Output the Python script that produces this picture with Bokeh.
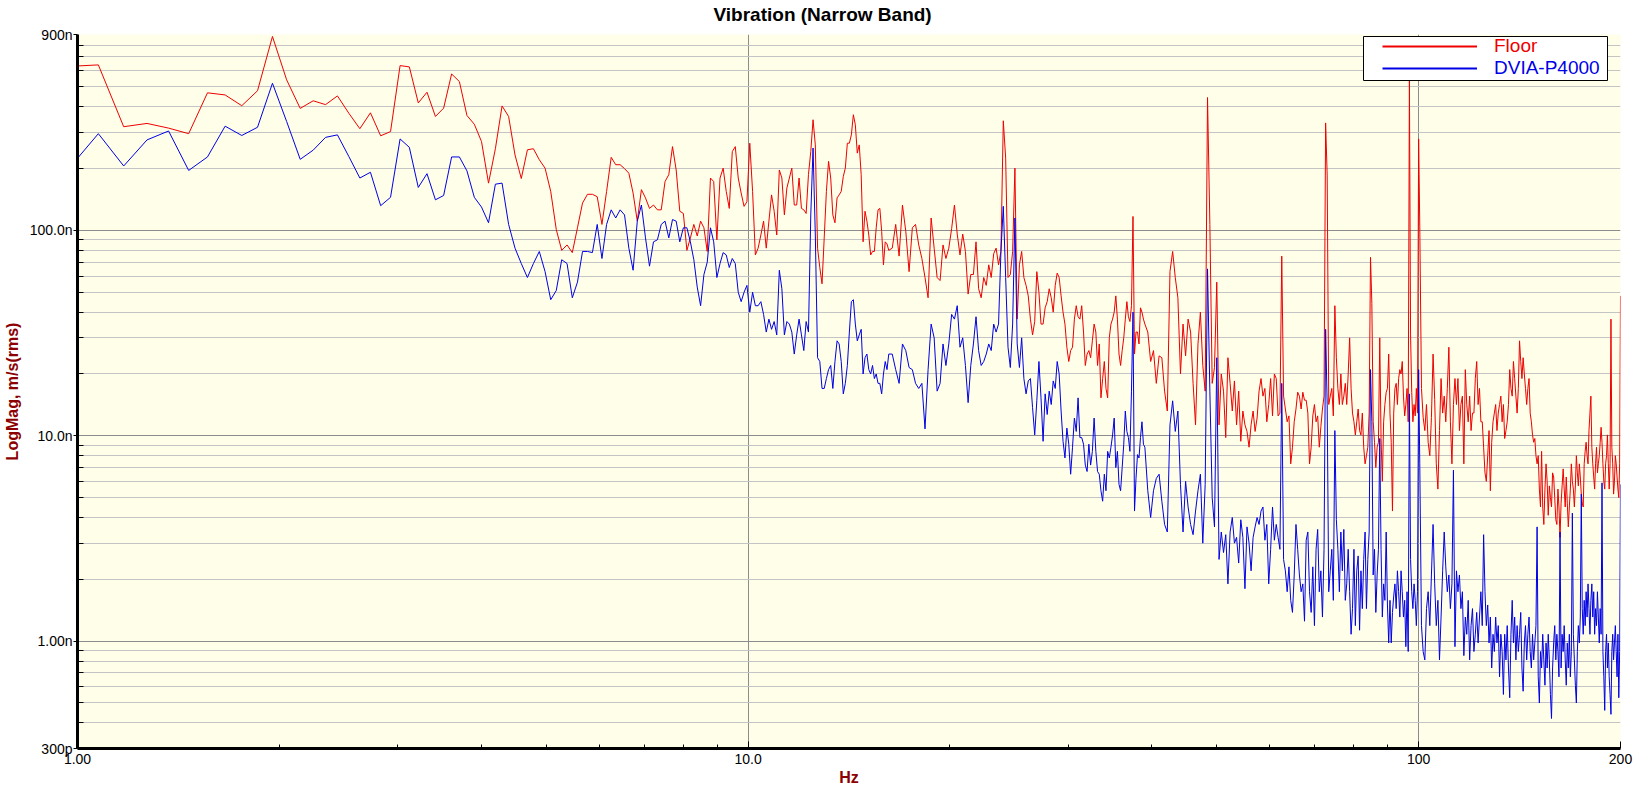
import numpy as np
from bokeh.plotting import figure
from bokeh.models import (Range1d, FixedTicker, CustomJSTickFormatter, Legend,
                          LegendItem, BoxAnnotation, Title)
from bokeh.embed import file_html
from bokeh.resources import INLINE

TITLE = "Vibration (Narrow Band)"
X_LABEL = "Hz"
Y_LABEL = "LogMag, m/s(rms)"
SERIES_NAMES = ["Floor", "DVIA-P4000"]

# spectral line spacing of the narrow-band analysis (Hz)
BIN_HZ = 200.0 / 2048

# ---- values in nm/s (rms) ----
# segment A: lines 10..166, every line
FLOOR_A = [630, 640, 320, 332, 315, 296, 468, 457, 405, 479,
           880, 541, 393, 428, 410, 452, 372, 313, 374, 289,
           303, 635, 626, 418, 471, 359, 394, 578, 531, 363,
           329, 271, 170, 250, 404, 359, 233, 179, 247, 250,
           221, 201, 155, 101, 80, 85, 78, 103, 136, 150,
           150, 146, 107, 155, 227, 209, 209, 200, 190, 152,
           111, 158, 144, 128, 133, 126, 126, 173, 187, 256,
           197, 124, 121, 80, 92, 107, 94, 111, 103, 79,
           180, 173, 90, 180, 201, 155, 128, 242, 256, 180,
           152, 131, 138, 266, 155, 76, 82, 95, 111, 82,
           111, 149, 124, 95, 197, 180, 119, 161, 180, 201,
           133, 133, 180, 128, 126, 121, 187, 242, 346, 261,
           82, 66, 55, 92, 155, 217, 180, 119, 109, 144,
           149, 155, 183, 201, 266, 266, 292, 366, 327, 238,
           261, 187, 88, 124, 111, 95, 76, 79, 79, 103,
           126, 128, 99, 68, 88, 86, 80]
DVIA_A = [205, 296, 206, 276, 305, 196, 228, 322, 290, 318,
          521, 339, 222, 246, 284, 292, 229, 180, 192, 132,
          145, 279, 254, 162, 189, 141, 148, 228, 228, 195,
          145, 130, 109, 168, 170, 107, 82, 69, 59, 69,
          79, 63, 46, 51, 72, 69, 47, 56, 79, 79,
          78, 107, 73, 107, 126, 115, 126, 119, 82, 64,
          111, 133, 92, 67, 88, 90, 107, 111, 92, 113,
          111, 88, 103, 103, 88, 72, 53, 43, 61, 70,
          103, 88, 59, 69, 78, 76, 66, 73, 69, 50,
          45, 50, 54, 40, 50, 43, 43, 45, 39, 32,
          37, 33, 36, 31, 64, 52, 31, 36, 35, 32,
          25, 31, 37, 31, 26, 36, 32, 119, 252, 95,
          24, 23, 17, 17, 19, 21, 22, 17, 23, 29,
          28, 23, 16, 18, 22, 32, 45, 46, 35, 29,
          31, 33, 20, 24, 25, 21, 20, 22, 19, 20,
          18, 18, 16, 20, 23, 21, 25]

# segment B: lines 168..400, every 2nd line
FLOOR_B = [82, 107, 75, 133, 99, 63, 103, 107, 85, 73,
           59, 47, 115, 82, 59, 57, 85, 73, 82, 102,
           133, 96, 76, 96, 79, 49, 61, 61, 88, 52,
           47, 59, 54, 68, 59, 77, 82, 68, 79, 342,
           225, 59, 61, 79, 201, 37, 68, 79, 59, 54,
           48, 37, 31, 36, 63, 50, 35, 35, 42, 45,
           52, 47, 40, 54, 62, 59, 48, 40, 35, 27,
           23, 26, 27, 37, 43, 38, 37, 43, 32, 22,
           25, 26, 24, 29, 35, 32, 22, 28, 15.3, 19,
           23, 17, 15.3, 30, 35, 37, 40, 48, 37, 25,
           22, 26, 30, 37, 45, 38, 36, 43, 117, 25,
           32, 32, 28, 42, 40, 37, 35]
DVIA_B = [25, 21, 18, 28, 26, 21.5, 21, 18, 17, 18,
          10.8, 21, 35, 30, 16.5, 18, 28, 22, 28, 39,
          37, 43, 27, 30, 22, 14.5, 22, 28, 38, 26,
          22, 23, 25, 28, 26, 35, 32, 35, 79, 131,
          59, 27, 21.5, 35, 115, 28, 21.5, 30, 19, 16,
          18.5, 19, 13.7, 10.1, 14.8, 23, 15.3, 9.4, 16, 12.7,
          16.5, 14.2, 18.5, 17, 23, 20, 13.2, 9.4, 7.8, 10.9,
          9.1, 6.5, 8.8, 12.2, 10.5, 15.3, 9.8, 9.8, 9.1, 7.2,
          6.7, 9.1, 7.2, 8.4, 12.2, 8.4, 6.7, 6.5, 5.4, 4.8,
          6.5, 5.4, 8.4, 7.8, 8.8, 10.1, 12.2, 7.0, 8.4, 5.8,
          5.4, 7.0, 9.1, 13.2, 10.5, 9.8, 8.4, 16.5, 40, 4.3,
          6.2, 8.1, 7.8, 9.8, 11.7, 9.1, 8.8]

# segment C: lines 404..1024, every 4th line
FLOOR_C = [32, 23, 26, 18, 24.5, 24, 16.5, 13.2, 63, 79,
           59, 47, 20, 35, 24.5, 37, 32, 18, 11.3, 28,
           40, 22, 16.5, 444, 107, 18, 21.5, 56, 11.3, 20,
           16.5, 9.8, 24, 18, 13.2, 18.5, 11.3, 16.5, 9.4, 13.2,
           11.3, 10.5, 8.8, 11.3, 13.2, 10.5, 12.2, 16.5,
           19, 15.6, 17, 11.7, 14.2, 19, 12.5, 20, 19, 12.5,
           12.9, 75, 15.6, 13.5, 11.7, 12.5, 7.3, 8.8, 11.7, 13.5,
           16.3, 15.6, 13.5, 16.3, 14.9, 14.9, 12.9, 7.3, 8.8, 12.5,
           14.2, 11.7, 12.5, 8.8, 11.1, 13.5, 15.6, 334, 186, 14.2,
           15.6, 17, 12.5, 43, 24, 17, 14.2, 20, 14.2, 15.6,
           18, 14.2, 20, 30, 17, 12.9, 11.7, 10.1, 11.7, 13.5,
           10.6, 10.1, 12.9, 8.8, 7.3, 8.0, 8.8, 12.9, 74, 44,
           11.7, 9.3, 7.0, 8.8, 9.3, 30, 9.7, 6.0, 11.7, 14.2,
           16.3, 17, 25, 12.9, 9.3, 4.3, 12.9, 17, 18, 14.2,
           19, 21, 20, 23, 15.6, 12.5, 14.2, 17, 11.7, 540,
           31, 16.3, 11.7, 14.2, 12.5, 17, 12.9, 279]
DVIA_C = [5.4, 4.0, 5.4, 6.2, 6.5, 4.8, 3.7, 3.4, 11.3, 14.8,
          10.5, 13.2, 5.8, 3.4, 6.0, 4.5, 3.7, 3.3, 4.3, 5.4,
          6.5, 3.0, 5.8, 65, 16.5, 5.0, 3.6, 24, 2.5, 3.4,
          2.7, 3.3, 1.9, 3.4, 4.0, 3.0, 3.2, 2.4, 3.9, 3.2,
          1.8, 3.6, 3.0, 2.2, 3.2, 3.6, 4.0, 3.7,
          4.3, 4.5, 3.1, 3.7, 1.9, 2.8, 4.5, 3.1, 3.7, 3.2,
          2.8, 18, 2.5, 2.2, 1.74, 2.3, 1.58, 1.38, 2.1, 3.7,
          2.8, 2.1, 1.74, 1.9, 1.25, 3.1, 3.4, 1.74, 1.38, 2.3,
          1.19, 2.8, 3.5, 1.74, 2.2, 1.31, 2.8, 33, 14.2, 1.74,
          2.2, 2.8, 1.58, 10.6, 3.9, 2.8, 1.74, 3.4, 2.2, 3.5,
          1.58, 1.9, 2.8, 1.74, 1.08, 1.44, 2.8, 1.19, 2.2, 2.6,
          1.13, 2.2, 1.44, 2.5, 3.4, 1.44, 2.5, 3.4, 21, 11.7,
          2.1, 2.8, 1.38, 2.1, 2.8, 9.7, 2.8, 1.31, 1.9, 1.58,
          3.4, 1.5, 0.98, 1.58, 0.98, 1.38, 1.66, 1.9, 1.44, 2.2,
          1.74, 1.31, 2.2, 1.74, 1.31, 1.58, 0.94, 1.74, 0.89, 16,
          2.5, 1.74, 1.44, 1.9, 1.58, 1.19, 1.74, 21]

# segment D: lines 1028..2048, every 6th line
FLOOR_D = [105, 17, 12.3, 10.6, 14.2, 9.3, 8.0, 12.3, 25, 15,
           7.3, 5.5, 10.6, 19, 12.9, 15.6, 11.7, 17, 27, 11.7,
           7.3, 14.2, 19, 14.2, 19, 10.6, 14.2, 15.6, 7.3, 21,
           14.2, 11.7, 15.6, 10.6, 12.9, 12.9, 19, 23, 14.2, 17,
           11.7, 11.7, 8.8, 6.6, 6.0, 8.0, 10.6, 5.4, 9.3, 11.7,
           12.9, 14.2, 10.6, 12.9, 14.2, 15.6, 11.7, 14.2, 9.7, 10.6,
           11.7, 14.2, 21, 17, 15.6, 23, 19, 15.6, 12.9, 17,
           29, 23, 19, 24, 20, 17, 14.2, 17, 19, 12.9,
           11.7, 10.1, 9.3, 9.7, 8.0, 7.3, 8.0, 5.5, 4.5, 8.4,
           4.5, 3.7, 5.5, 7.3, 6.0, 4.1, 5.7, 5.0, 4.5, 6.6,
           6.3, 5.0, 3.9, 3.7, 5.5, 4.5, 3.2, 4.7, 5.7, 6.9,
           5.5, 4.5, 6.3, 4.7, 3.6, 4.5, 5.5, 7.3, 6.0, 5.5,
           4.5, 5.7, 8.0, 6.6, 5.7, 7.3, 6.3, 5.2, 4.7, 4.5,
           7.3, 8.4, 9.3, 8.0, 7.3, 10.6, 12.9, 15.6, 8.8, 7.3,
           6.3, 5.5, 7.3, 8.8, 6.6, 7.3, 8.0, 9.3, 11, 9.3,
           7.3, 6.0, 5.5, 7.3, 8.0, 10.1, 7.3, 5.5, 7.3, 37,
           8.8, 7.3, 5.2, 6.0, 8.0, 7.3, 6.3, 5.5, 5.0, 7.3, 48]
DVIA_D = [7.3, 1.19, 0.89, 0.81, 1.44, 1.74, 1.19, 2.1, 3.7, 1.9,
          1.19, 1.58, 0.81, 1.31, 2.2, 3.4, 2.3, 1.74, 2.1, 1.44,
          1.9, 6.8, 0.94, 2.2, 1.74, 2.1, 1.44, 1.74, 0.85, 1.31,
          1.08, 1.58, 0.81, 1.19, 1.44, 0.89, 1.08, 1.38, 0.98, 1.31,
          1.74, 1.19, 3.3, 1.74, 1.19, 1.5, 0.98, 1.31, 0.74, 1.08,
          0.89, 1.31, 0.98, 1.19, 0.67, 1.08, 0.89, 0.55, 1.08, 0.81,
          1.19, 0.74, 0.53, 1.08, 1.58, 0.98, 1.31, 0.81, 1.19, 0.89,
          1.08, 1.38, 0.74, 0.57, 0.98, 1.19, 0.81, 1.08, 1.31, 0.89,
          0.74, 1.08, 0.81, 0.98, 1.19, 3.6, 0.67, 0.50, 0.89, 0.74,
          1.08, 0.81, 0.61, 0.98, 0.74, 1.08, 0.81, 0.55, 0.42, 0.74,
          0.98, 1.19, 0.81, 1.08, 0.89, 0.67, 3.4, 0.74, 1.08, 0.89,
          1.19, 0.81, 0.61, 0.98, 0.74, 1.08, 0.67, 0.89, 4.2, 1.08,
          0.81, 0.61, 0.50, 0.89, 1.19, 0.98, 1.31, 5.2, 1.44, 1.08,
          1.58, 1.19, 1.74, 1.31, 1.9, 1.44, 1.08, 1.58, 1.9, 1.31,
          1.74, 1.08, 1.44, 1.19, 1.74, 1.31, 0.98, 1.44, 1.08, 5.9,
          0.89, 0.67, 0.46, 0.89, 1.08, 0.74, 0.98, 0.67, 0.55, 0.44,
          0.89, 1.08, 0.81, 0.98, 1.19, 0.89, 0.67, 1.08, 0.53, 0.89, 5.8]

# (first spectral line, line step) of each segment
SEGMENTS = [(10, 1), (168, 2), (404, 4), (1028, 6)]

X_TICKS = [1, 10, 100, 200]
X_TICK_LABELS = ["1.00", "10.0", "100", "200"]
X_MINOR = [2, 3, 4, 5, 6, 7, 8, 9, 20, 30, 40, 50, 60, 70, 80, 90]
Y_TICKS = [3e-10, 1e-9, 1e-8, 1e-7, 9e-7]
Y_TICK_LABELS = ["300p", "1.00n", "10.0n", "100.0n", "900n"]
Y_DECADES = [1e-9, 1e-8, 1e-7]
Y_MINOR = ([m * 1e-10 for m in range(4, 10)] + [m * 1e-9 for m in range(2, 10)] +
           [m * 1e-8 for m in range(2, 10)] + [m * 1e-7 for m in range(2, 9)])
X_RANGE = (1.0, 200.0)
Y_RANGE = (3e-10, 9e-7)

RED = "#EE0000"
BLUE = "#0000E6"
LABEL_RED = "#8B0000"
FONT = "Liberation Sans"


def build(segs):
    f, v = [], []
    for (start, step), vals in zip(SEGMENTS, segs):
        n = len(vals)
        f.append(BIN_HZ * (start + step * np.arange(n)))
        v.append(np.asarray(vals, dtype=float) * 1e-9)
    return np.concatenate(f), np.concatenate(v)


floor_f, floor_v = build([FLOOR_A, FLOOR_B, FLOOR_C, FLOOR_D])
dvia_f, dvia_v = build([DVIA_A, DVIA_B, DVIA_C, DVIA_D])

FW, FH = 1543, 714
p = figure(x_axis_type="log", y_axis_type="log",
           x_range=Range1d(*X_RANGE), y_range=Range1d(*Y_RANGE),
           frame_width=FW, frame_height=FH,
           min_border_left=71, min_border_right=13, min_border_top=25, min_border_bottom=37,
           output_backend="svg", toolbar_location=None, title=TITLE)

p.background_fill_color = "#FEFEE9"
p.border_fill_color = "white"
p.outline_line_color = None

p.title.text_font = FONT
p.title.text_font_size = "19px"
p.title.text_font_style = "bold"
p.title.text_color = "black"
p.title.align = "left"
p.title.offset = 636
p.title.standoff = 2
# small empty spacer between the title and the plot area
p.add_layout(Title(text=" ", text_font_size="7px", standoff=0), "above")

fmt_code = """
let best = 0, bd = Infinity;
for (let i = 0; i < vals.length; i++) {
  const d = Math.abs(Math.log10(tick) - Math.log10(vals[i]));
  if (d < bd) { bd = d; best = i; }
}
return labels[best];
"""

xa = p.xaxis[0]
xa.ticker = FixedTicker(ticks=X_TICKS, minor_ticks=X_MINOR)
xa.formatter = CustomJSTickFormatter(args=dict(vals=X_TICKS, labels=X_TICK_LABELS), code=fmt_code)
xa.axis_label = X_LABEL
ya = p.yaxis[0]
ya.ticker = FixedTicker(ticks=Y_TICKS, minor_ticks=Y_MINOR)
ya.formatter = CustomJSTickFormatter(args=dict(vals=Y_TICKS, labels=Y_TICK_LABELS), code=fmt_code)
ya.axis_label = Y_LABEL

for ax in (xa, ya):
    ax.axis_line_width = 3
    ax.axis_line_color = "black"
    ax.major_tick_line_color = "black"
    ax.minor_tick_line_color = "black"
    ax.major_label_text_font = FONT
    ax.major_label_text_font_size = "14px"
    ax.major_label_text_color = "black"
    ax.axis_label_text_font = FONT
    ax.axis_label_text_font_size = "16px"
    ax.axis_label_text_font_style = "bold"
    ax.axis_label_text_color = LABEL_RED

xa.major_tick_in = 7
xa.major_tick_out = 0
xa.minor_tick_in = 4
xa.minor_tick_out = 0
xa.major_label_standoff = 5
xa.axis_label_standoff = 2

ya.major_tick_in = 0
ya.major_tick_out = 4
ya.minor_tick_in = 6
ya.minor_tick_out = 0
ya.major_label_standoff = 1
ya.axis_label_standoff = 6

p.xgrid.ticker = FixedTicker(ticks=[10, 100])
p.xgrid.grid_line_color = "#8C8C8C"
p.ygrid.ticker = FixedTicker(ticks=Y_DECADES, minor_ticks=Y_MINOR)
p.ygrid.grid_line_color = "#8C8C8C"
p.ygrid.minor_grid_line_color = "#C4C4C4"

p.line(floor_f, floor_v, line_color=RED, line_width=1)
p.line(dvia_f, dvia_v, line_color=BLUE, line_width=1)

# legend sample renderers: a single point draws no visible line in the plot
lf = p.line(x=floor_f[:1], y=floor_v[:1], line_color=RED, line_width=2)
ld = p.line(x=dvia_f[:1], y=dvia_v[:1], line_color=BLUE, line_width=2)

# legend box, placed in frame pixels and converted to data units
def px_to_data(xrel, yrel_top):
    lx = np.log10(X_RANGE[0]) + xrel / FW * np.log10(X_RANGE[1] / X_RANGE[0])
    ly = np.log10(Y_RANGE[1]) - yrel_top / FH * np.log10(Y_RANGE[1] / Y_RANGE[0])
    return 10 ** lx, 10 ** ly

BOX = (1286, 2, 1530, 46)  # left, top, right, bottom in frame px
bl, bt = px_to_data(BOX[0], BOX[1])
br, bb = px_to_data(BOX[2], BOX[3])
p.add_layout(BoxAnnotation(left=bl, right=br, top=bt, bottom=bb,
                           fill_color="white", fill_alpha=1.0,
                           line_color="black", line_width=1, line_alpha=1.0))

def make_legend(label, rend, color, loc):
    return Legend(items=[LegendItem(label=label, renderers=[rend])], location=loc,
                  padding=0, spacing=0, margin=0, glyph_width=95, glyph_height=20,
                  label_height=20, label_standoff=17, border_line_color=None,
                  background_fill_alpha=0.0, label_text_color=color,
                  label_text_font=FONT, label_text_font_size="19px")

p.add_layout(make_legend(SERIES_NAMES[0], lf, RED, (1305, 691)))
p.add_layout(make_legend(SERIES_NAMES[1], ld, BLUE, (1305, 669)))

open("out.html", "w").write(file_html(p, INLINE))
